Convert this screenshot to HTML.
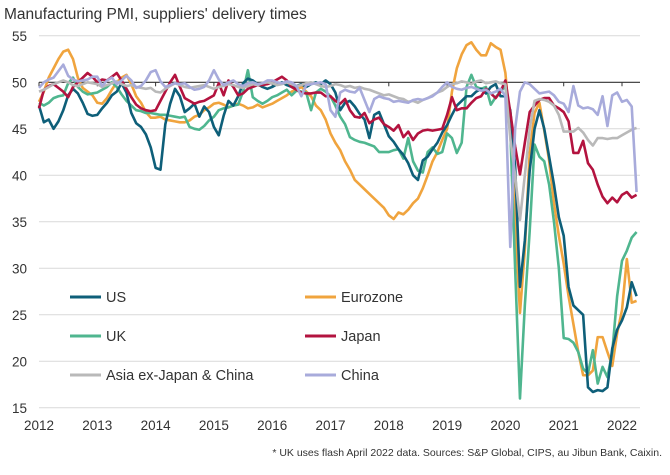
<!DOCTYPE html>
<html><head><meta charset="utf-8"><style>
body{margin:0;background:#fff;width:670px;height:470px;overflow:hidden;font-family:"Liberation Sans",sans-serif;}
svg text{font-family:"Liberation Sans",sans-serif;fill:#333;}
</style></head><body>
<svg id="chart" width="670" height="470" viewBox="0 0 670 470" xmlns="http://www.w3.org/2000/svg">
<text x="4" y="19" font-size="15.5">Manufacturing PMI, suppliers' delivery times</text>
<g id="grid"></g>
<g id="yaxis"></g>
<g id="xaxis"></g>
<g id="series"></g>
<g id="legend"></g>
<text x="662" y="456" font-size="10.5" text-anchor="end">* UK uses flash April 2022 data. Sources: S&amp;P Global, CIPS, au Jibun Bank, Caixin.</text>
</svg>
<script>
const yTicks=[15,20,25,30,35,40,45,50,55];
const xYears=[2012,2013,2014,2015,2016,2017,2018,2019,2020,2021,2022];
const seriesNames=["US","Eurozone","UK","Japan","Asia ex-Japan & China","China"];
const us=[47.5,45.7,46,45,45.8,47,48.6,49.3,48.8,47.8,46.6,46.4,
46.5,47.2,47.8,48.6,49,49.9,48.9,46.7,45.6,45.2,44.4,43,
40.8,40.6,45.5,47.7,49.3,48.5,46.8,47.2,47.7,46.3,47.4,46.8,
45.2,44.3,46.4,48,47.5,48.5,49.9,50.4,50.2,49.8,49.5,49.3,
49.5,49.8,50,49.7,49.5,49.6,49.8,49.5,49.8,50,49.8,50.2,
49.8,48.9,47,47.8,48,47.4,46.6,46,44,46.5,46.8,45.5,
44.2,43.6,42.8,42.2,41.3,40,39.5,41.6,42,42.8,43.5,44.6,
45.4,46.5,47.5,48,48.5,48.5,49,49.3,48.8,49.5,49.8,48.5,
48.5,47,41,28,33,40.5,45,47,45,42,39,35.5,
33.5,28,26,25.5,25,17.2,16.7,16.9,16.8,17.2,21.4,23.4,
24.4,25.8,28.5,27];
const eurozone=[47.9,49,50.5,51.5,52.5,53.3,53.5,52.5,50.5,49.4,49,48.6,
47.8,47.7,48.3,49.2,50,50.5,50.8,49.8,48.5,47.8,46.8,46.2,
46.2,46.3,46,45.9,45.8,45.7,45.7,45.9,46.3,46.5,47,47.3,
47.7,47.8,47.6,47.3,47.5,47.7,47.5,47.2,47.3,47.6,47.3,47.5,
47.7,48,48.3,48.6,49,49.2,49.5,49,48.5,47.5,47,46,
44.5,43.5,42.7,41.5,40.6,39.5,39,38.5,38,37.5,37,36.5,
35.7,35.3,36,35.8,36.3,37,37.5,38.6,40,41.5,42.5,43.8,
45,49,51.5,53,54,54.3,53.5,52.9,52.9,54.2,53.8,53.5,
51,45,35,25.2,32,42.4,46.7,47.8,44.8,41.6,37,33.5,
30.5,27,24,21,18.5,18.5,19,22.6,22.6,21,19.5,23,
25.5,31,26.3,26.5];
const uk=[47.8,47.5,47.8,48.3,48.5,48.6,49.9,50.5,49.5,49,48.7,48.8,
48.9,49.2,49.5,50,49.5,48.7,48,47.5,47,46.9,46.7,46.7,
46.6,46.5,46.5,46.4,46.3,46.2,46.3,45.2,45,44.9,45.3,45.9,
46.3,47,47.2,47.3,47.5,47.6,49,51.3,48.4,48,47.7,48,
48.4,48.6,48.9,49.2,48.6,49.1,49,48.9,47,48.9,49.3,49,
48.5,47.5,46.3,45.5,44.1,43.8,43.6,43.5,43.3,43.1,42.5,42.5,
42.5,42.7,42.8,41.8,44,41.5,40.5,40.3,42.5,43,42.3,42.5,
44.5,44,42.4,43.5,49.5,50.8,49.5,49.3,49.5,47.6,48.4,49,
49.6,45,30,16,26,34,43.3,42,41.5,39,35,30,
22.5,22.4,22,21,19.2,18.7,21.2,17.6,19.4,18.3,21,27,
30.8,31.9,33.3,33.9];
const japan=[47.2,49.2,49.6,49.8,49.4,49,48.4,49.5,50,50.5,51,50.6,
50,50.3,50.2,50.6,51,50.2,49.3,48.4,47.6,47.2,47,46.9,
47,48,49,50,50.8,49.5,48.3,48,47.7,47.9,48,48.3,
48.6,49.9,48.6,50.2,49.5,48.6,48.8,49.3,49.5,49.7,49.7,49.8,
50,50.3,50.6,50.2,49.5,49.2,48.9,48.8,48.8,48.9,48.9,48.5,
48.5,48,47.7,48.2,47,46.3,46.2,46.7,45.6,46,46.2,45.5,
45.2,44.8,45.4,44.1,44.7,43.8,44.5,44.8,44.9,44.8,44.9,45,
46.5,48.4,47,47.2,47.2,47.8,48.3,48.5,49.3,48.8,48.3,49,
50.2,46.8,43.1,40.1,43.5,46.8,47.5,48.1,48.3,48.3,47.5,47.2,
46.8,45.8,42.4,42.4,43.7,41.3,40.6,39,37.7,37,37.6,37.1,
37.9,38.2,37.6,37.9];
const asia=[49,49.2,49.5,49.8,50,50.2,50,49.7,49.6,49.8,50,49.9,
49.8,49.5,49.7,49.9,50.1,49.8,49.6,49.7,49.5,49.4,49.3,49.4,
49,48.9,49.3,49.6,49.9,49.7,49.5,49.4,49.5,49.6,49.7,49.5,
49.3,49.5,49.6,49.8,49.7,49.5,49.4,49.6,49.8,49.7,49.9,50,
49.9,49.7,49.8,50,49.8,49.6,49.7,49.9,50,49.8,49.6,49.5,
49.6,49.8,49.7,49.5,49.6,49.4,49.5,49.3,49.2,49,48.8,48.6,
48.7,48.5,48.3,48.2,47.9,48,47.8,48.1,48.3,48.6,48.9,49.1,
49.5,49.8,49.9,50.1,50,49.8,50.1,50.2,49.9,50,50.1,49.9,
49.8,44,40,35.2,40,45,48,48.2,48.1,47.9,47.5,46.5,
44.7,44.7,44.7,45.1,44.6,43.8,43.2,44,44,43.9,44,44,
44.3,44.6,44.9,45.1];
const china=[49.4,50,50.3,50.5,51.2,51.9,50.7,50.3,50.1,50.2,50.3,50.6,
50.6,49.6,50.2,50.5,49.8,50.2,50.7,50.2,49.4,49.6,50.2,51.1,
51.3,50.1,49.5,49.7,49.9,49.8,49.9,49.5,49.2,49.3,49.5,50.2,
51.3,50.3,49.7,50,50.2,49.8,49.6,49.9,50,49.8,49.9,50.2,
50.2,50,49.9,50.1,50,49.6,48.5,49.7,49.8,49.9,50,49.8,
47,46.3,48.9,49.2,49,48.9,49.4,48.1,46.8,48.2,48.5,48.3,
48.2,47.9,48,47.9,47.8,48.1,48.2,48.1,48.3,48.5,48.9,49.5,
50,49.5,49.3,49.2,49.4,49.5,49.3,49.1,49.2,48.8,49,49.3,
48.5,32.3,45,49,50,49.8,49.3,48.8,48.9,49,48.6,47.9,
47.7,46.8,49.6,47.5,47.2,47.3,47.1,46.5,48.5,45.3,48.6,48.9,
47.9,48.1,47.4,38.2];

const NS="http://www.w3.org/2000/svg";
const X0=39, YW=58.3, Y50=82.3, PU=9.3;
function xScale(monthIndex){return X0+monthIndex*YW/12;}
function xYear(yr){return X0+(yr-2012)*YW;}
function yScale(v){return Y50-(v-50)*PU;}
function mk(tag,attrs,parent){const e=document.createElementNS(NS,tag);for(const k in attrs)e.setAttribute(k,attrs[k]);parent.appendChild(e);return e;}

const grid=document.getElementById('grid'),yax=document.getElementById('yaxis'),xax=document.getElementById('xaxis'),ser=document.getElementById('series'),leg=document.getElementById('legend');
yTicks.forEach(t=>{
  if(t!==50){const l=mk('line',{x1:X0,x2:640,y1:yScale(t),y2:yScale(t),stroke:'#d9d9d9','stroke-width':1},grid);
    
    }
  const tx=mk('text',{x:27,y:yScale(t)+5,'font-size':13.5,'text-anchor':'end'},yax);tx.textContent=t;
  
  
});
const base=mk('line',{x1:X0,x2:640,y1:Y50,y2:Y50,stroke:'#333','stroke-width':1.2},xax);


xYears.forEach(yr=>{
  const x=xYear(yr);
  const tk=mk('line',{x1:x,x2:x,y1:Y50,y2:Y50+4,stroke:'#333','stroke-width':1},xax);
  
  
  const tx=mk('text',{x:x,y:430,'font-size':13.5,'text-anchor':'middle'},xax);tx.textContent=yr;
  
  
});
const colors=['#0e5f79','#f0a43e','#4fb68f','#b3133f','#b9b9b9','#a8abdb'];
const data=[us,eurozone,uk,japan,asia,china];
const order=[1,2,0,3,4,5];
order.forEach(s=>{
  const d=data[s].map((v,i)=>(i?'L':'M')+xScale(i).toFixed(2)+','+yScale(v).toFixed(2)).join('');
  const p=mk('path',{d:d,fill:'none',stroke:colors[s],'stroke-width':2.6,'stroke-linejoin':'round'},ser);
  
  
});
const legPos=[[70,297],[305,297],[70,336],[305,336],[70,375],[305,375]];
seriesNames.forEach((n,s)=>{
  const [lx,ly]=legPos[s];
  const g=mk('g',{},leg);
  
  
  mk('line',{x1:lx,x2:lx+31,y1:ly,y2:ly,stroke:colors[s],'stroke-width':3},g);
  const t=mk('text',{x:lx+36,y:ly+5,'font-size':14.5},g);t.textContent=n;
});
</script>
</body></html>
